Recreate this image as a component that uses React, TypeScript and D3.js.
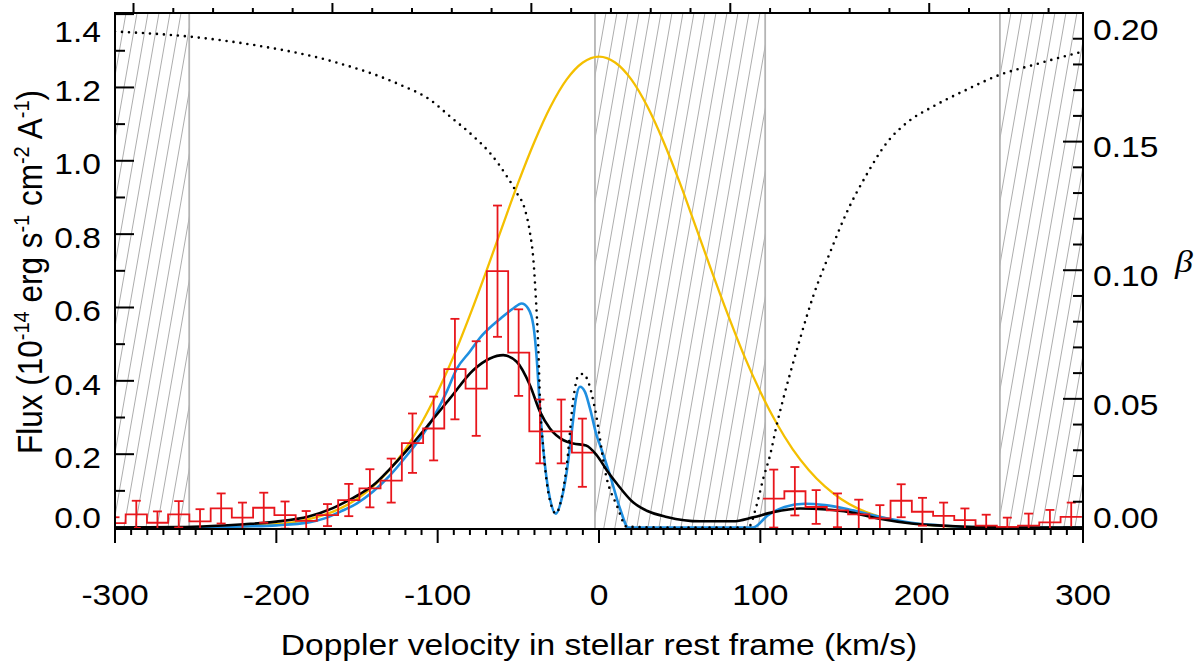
import * as d3 from 'd3';

// Observed spectrum, binned (km/s, 1e-14 erg/s/cm2/A)
const binVel = [
  -300.0, -286.8, -273.7, -260.5, -247.3, -234.2, -221.0, -207.8, -194.6, -181.5,
  -168.3, -155.1, -142.0, -128.8, -115.6, -102.5, -89.3, -76.1, -62.9, -49.8,
  -36.6, -23.4, -10.3,
  108.3, 121.4, 134.6, 147.8, 161.0, 174.1, 187.3, 200.5, 213.6, 226.8,
  240.0, 253.1, 266.3, 279.5, 292.7,
];
const binFlux = [
  0.012, 0.036, 0.013, 0.036, 0.017, 0.052, 0.027, 0.054, 0.034, 0.018,
  0.034, 0.075, 0.107, 0.128, 0.230, 0.270, 0.432, 0.379, 0.699, 0.477,
  0.262, 0.262, 0.204,
  0.079, 0.099, 0.056, 0.047, 0.036, 0.025, 0.073, 0.043, 0.032, 0.020,
  0.005, 0.002, 0.005, 0.014, 0.029,
];
const binErr = [
  0.016, 0.037, 0.031, 0.036, 0.033, 0.041, 0.041, 0.041, 0.037, 0.027,
  0.030, 0.044, 0.052, 0.060, 0.081, 0.087, 0.137, 0.129, 0.179, 0.118,
  0.087, 0.087, 0.093,
  0.079, 0.066, 0.046, 0.046, 0.040, 0.036, 0.045, 0.038, 0.036, 0.032,
  0.030, 0.025, 0.033, 0.034, 0.039,
];

// Intrinsic line profile (yellow)
const intrinsicVel = [
  -300, -260, -240, -220, -200, -190, -180, -170, -160, -150, -140, -130, -120, -110,
  -100, -90, -80, -70, -60, -50, -40, -30, -20, -10, 0, 10, 20, 30, 40, 50, 60, 70,
  80, 90, 100, 110, 120, 130, 140, 150, 160, 170, 180, 190, 200, 220, 240, 260, 300,
];
const intrinsicFlux = [
  0, 0, 0.001, 0.003, 0.009, 0.014, 0.023, 0.035, 0.053, 0.078, 0.112, 0.157, 0.214, 0.285,
  0.370, 0.468, 0.579, 0.697, 0.820, 0.941, 1.052, 1.148, 1.222, 1.268, 1.284, 1.268, 1.222, 1.148, 1.052, 0.941, 0.820, 0.697,
  0.579, 0.468, 0.370, 0.285, 0.214, 0.157, 0.112, 0.078, 0.053, 0.035, 0.023, 0.014, 0.009, 0.003, 0.001, 0, 0,
];

// After ISM absorption (blue)
const absorbedVel = [
  -300, -260, -240, -220, -200, -180, -170, -160, -150, -140, -130, -119, -110, -103,
  -95, -88, -80, -74, -61, -53, -48, -44, -40.7, -38.6, -37, -35.5, -33.5, -30.4,
  -26.7, -23.1, -20, -16.9, -14.3, -11.8, -8.7, -5.6, -1.4, 0.6, 6.8, 13, 18.2, 95.5,
  104.8, 115, 127.5, 140, 152.3, 173, 193.6, 214, 235, 260, 300,
];
const absorbedFlux = [
  0, 0, 0.001, 0.003, 0.006, 0.014, 0.025, 0.044, 0.066, 0.098, 0.14, 0.197, 0.248, 0.297,
  0.365, 0.434, 0.48, 0.516, 0.57, 0.598, 0.611, 0.598, 0.552, 0.461, 0.352, 0.261, 0.17, 0.079,
  0.038, 0.079, 0.152, 0.261, 0.352, 0.384, 0.37, 0.325, 0.25, 0.225, 0.143, 0.052, 0, 0,
  0.034, 0.056, 0.065, 0.061, 0.052, 0.03, 0.013, 0.005, 0.001, 0, 0,
];

// Convolved with the LSF (black)
const convolvedVel = [
  -300, -260, -240, -220, -200, -180, -165, -158, -148, -140, -130, -119, -105, -92.4,
  -78, -67.6, -59.4, -51, -42.8, -36.6, -30.4, -22, -16, -8, -1.4, 5, 11, 21.3, 30,
  42, 62.6, 83, 95.6, 108, 124.6, 141, 155, 173, 193.6, 214, 235, 260, 300,
];
const convolvedFlux = [
  0, 0.001, 0.004, 0.009, 0.016, 0.03, 0.053, 0.068, 0.092, 0.115, 0.158, 0.211, 0.284, 0.352,
  0.429, 0.461, 0.47, 0.452, 0.388, 0.316, 0.27, 0.238, 0.229, 0.224, 0.197, 0.155, 0.12, 0.068, 0.045,
  0.029, 0.017, 0.017, 0.028, 0.042, 0.052, 0.049, 0.042, 0.0245, 0.011, 0.005, 0.001, 0, 0,
];

// Radiation pressure ratio (dotted, right axis)
const betaVel = [
  -300, -253.5, -214.3, -164.7, -123.3, -104.8, -92.4, -77.9, -67.6, -57.2, -51.0, -45.9,
  -42.8, -40.7, -39.1, -37.6, -36.6, -34.5, -32.4, -29.3, -26.7, -23.7, -20.0, -15.9,
  -12.8, -9.7, -6.6, -2.5, 4.8, 11.0, 17.2, 40, 70, 92.5, 97.7, 101.8, 106.0, 110.1,
  114.2, 118.4, 124.6, 132.8, 143.2, 153.5, 165.9, 178.3, 190.7, 207.2, 227.9, 248.5,
  269.2, 296.1, 300,
];
const betaVal = [
  0.1928, 0.1908, 0.1876, 0.1811, 0.1721, 0.1663, 0.1598, 0.1521, 0.1456, 0.1366, 0.1301, 0.1236,
  0.1146, 0.1043, 0.0888, 0.0694, 0.05, 0.0306, 0.0177, 0.008, 0.0054, 0.01, 0.0241, 0.05,
  0.059, 0.0597, 0.0565, 0.0461, 0.019, 0.0086, 0.0003, 0, 0, 0, 0.0086, 0.019, 0.028, 0.0397,
  0.05, 0.0597, 0.0733, 0.09, 0.1069, 0.1224, 0.1372, 0.1495, 0.1573, 0.1637, 0.1702, 0.176,
  0.1798, 0.1844, 0.185,
];

// Excluded velocity ranges (hatched)
const excluded = [[-300, -254], [-2.5, 103], [248.5, 300]];

const velTicks = [-300, -200, -100, 0, 100, 200, 300];
const fluxTicks = [0, 0.2, 0.4, 0.6, 0.8, 1.0, 1.2, 1.4];
const betaTicks = [0, 0.05, 0.1, 0.15, 0.2];

const width = 1200;
const height = 665;
const margin = { top: 13, right: 117, bottom: 136, left: 115 };
const stretch = 1.12;
const font = '"Liberation Sans", Arial, Helvetica, sans-serif';

export default function App() {
  const left = margin.left;
  const right = width - margin.right;
  const top = margin.top;
  const bottom = height - margin.bottom;

  const x = d3.scaleLinear().domain([-300, 300]).range([left, right]);
  const yFlux = d3.scaleLinear().domain([-0.004, 1.403]).range([bottom, top]);
  const yBeta = d3.scaleLinear().domain([-0.0006, 0.2]).range([bottom, top]);
  const c = 299792.458, lya = 1215.67;
  const xLam = d3.scaleLinear().domain([lya * (1 - 300 / c), lya * (1 + 300 / c)]).range([left, right]);

  const line = (xs: number[], ys: number[], y: d3.ScaleLinear<number, number>) =>
    d3.line<number>()
      .x((_, i) => x(xs[i]))
      .y(d => y(d))
      .curve(d3.curveMonotoneX)(ys) as string;

  // step histogram, split where bins are missing
  const half = (binVel[1] - binVel[0]) / 2;
  const segments: number[][] = [];
  binVel.forEach((v, i) => {
    if (i === 0 || v - binVel[i - 1] > 3 * half) segments.push([i]);
    else segments[segments.length - 1].push(i);
  });
  const stepPath = (idx: number[]) => {
    let p = '';
    idx.forEach((i, j) => {
      const y = yFlux(binFlux[i]);
      const a = x(binVel[i] - half), b = x(binVel[i] + half);
      p += (j === 0 ? `M${a},${y}` : `V${y}`) + `H${b}`;
    });
    return p;
  };

  const hatchStep = 11;
  const lean = 0.175 * (bottom - top);

  const label = (tx: number, ty: number, s: string, anchor: string, size = 30) => (
    <g transform={`translate(${tx},${ty}) scale(${stretch},1)`}>
      <text textAnchor={anchor} fontSize={size}>{s}</text>
    </g>
  );
  const clamp = (v: number, lo: number, hi: number) => Math.max(lo, Math.min(hi, v));

  return (
    <svg width={width} height={height} style={{ position: 'absolute', left: 0, top: 0, background: '#fff' }}
      fontFamily={font}>
      <defs>
        <clipPath id="plot"><rect x={left} y={top} width={right - left} height={bottom - top} /></clipPath>
        {excluded.map((r, k) => (
          <clipPath id={`ex${k}`} key={k}>
            <rect x={x(r[0])} y={top} width={x(r[1]) - x(r[0])} height={bottom - top} />
          </clipPath>
        ))}
      </defs>

      {/* hatched exclusion zones */}
      {excluded.map((r, k) => (
        <g key={k}>
          <g clipPath={`url(#ex${k})`} stroke="#adadad" strokeWidth={1}>
            {d3.range(x(r[0]) - lean, x(r[1]), hatchStep).map((s, j) => (
              <line key={j} x1={s} y1={bottom} x2={s + lean} y2={top} />
            ))}
          </g>
          {r.map((v, j) => (
            <line key={j} x1={x(v)} x2={x(v)} y1={top} y2={bottom} stroke="#b4b4b4" strokeWidth={1.8} />
          ))}
        </g>
      ))}

      <g clipPath="url(#plot)" fill="none">
        <path d={line(intrinsicVel, intrinsicFlux, yFlux)} stroke="#f4bf00" strokeWidth={2.3} />
        <path d={line(absorbedVel, absorbedFlux, yFlux)} stroke="#1f8fe0" strokeWidth={2.6} />
        <path d={line(convolvedVel, convolvedFlux, yFlux)} stroke="#000" strokeWidth={2.6} />
        <g stroke="#e8161c" strokeWidth={1.8}>
          {segments.map((s, k) => <path key={k} d={stepPath(s)} />)}
          {binVel.map((v, i) => {
            const cx = x(v);
            const y0 = yFlux(binFlux[i] - binErr[i]);
            const y1 = yFlux(binFlux[i] + binErr[i]);
            return (
              <g key={i}>
                <line x1={cx} x2={cx} y1={y0} y2={y1} />
                <line x1={cx - 4.5} x2={cx + 4.5} y1={y0} y2={y0} />
                <line x1={cx - 4.5} x2={cx + 4.5} y1={y1} y2={y1} />
              </g>
            );
          })}
        </g>
        <path d={line(betaVel, betaVal, yBeta)} stroke="#000" strokeWidth={2.6}
          strokeDasharray="0 7" strokeLinecap="round" />
      </g>

      {/* frame and ticks */}
      <g stroke="#000" strokeWidth={2}>
        <rect x={left} y={top} width={right - left} height={bottom - top} fill="none" />
        {d3.range(-300, 301, 10).map(v => (
          <line key={`b${v}`} x1={x(v)} x2={x(v)} y1={bottom} y2={bottom + (v % 100 === 0 ? 14 : 6)} />
        ))}
        {d3.range(12145, 12169).map(d => (
          <line key={`t${d}`} x1={xLam(d / 10)} x2={xLam(d / 10)} y1={top} y2={top - (d % 5 === 0 ? 10 : 5)} />
        ))}
        {d3.range(0, 15).map(i => (
          <line key={`l${i}`} x1={left} x2={left + (i % 2 === 0 ? 19 : 10)} y1={yFlux(i / 10)} y2={yFlux(i / 10)} />
        ))}
        {d3.range(0, 21).map(i => (
          <line key={`r${i}`} x1={right} x2={right - (i % 5 === 0 ? 20 : 10)} y1={yBeta(i / 100)} y2={yBeta(i / 100)} />
        ))}
      </g>

      {/* tick labels */}
      {velTicks.map(v => <g key={`xl${v}`}>{label(x(v), 605, String(v), 'middle')}</g>)}
      {fluxTicks.map(v => (
        <g key={`fl${v}`}>{label(101, clamp(yFlux(v) + 3, 31, 517) + 10.7, v.toFixed(1), 'end')}</g>
      ))}
      {betaTicks.map(v => (
        <g key={`bl${v}`}>{label(1093, clamp(yBeta(v) + 5, 29, 517) + 10.7, v.toFixed(2), 'start')}</g>
      ))}

      {/* axis titles */}
      {label((left + right) / 2, 655, 'Doppler velocity in stellar rest frame (km/s)', 'middle')}
      <g transform={`translate(42,272) scale(${stretch},1) rotate(-90)`}>
        <text textAnchor="middle" fontSize={31.5}>
          Flux (10<tspan dy={-12} fontSize={20}>-14</tspan>
          <tspan dy={12}> erg s</tspan><tspan dy={-12} fontSize={20}>-1</tspan>
          <tspan dy={12}> cm</tspan><tspan dy={-12} fontSize={20}>-2</tspan>
          <tspan dy={12}> A</tspan><tspan dy={-12} fontSize={20}>-1</tspan>
          <tspan dy={12}>)</tspan>
        </text>
      </g>
      <g transform={`translate(1175,272) scale(${stretch},1)`}>
        <text fontSize={32} fontStyle="italic" fontFamily='"Liberation Serif", "DejaVu Serif", serif'>β</text>
      </g>
    </svg>
  );
}
